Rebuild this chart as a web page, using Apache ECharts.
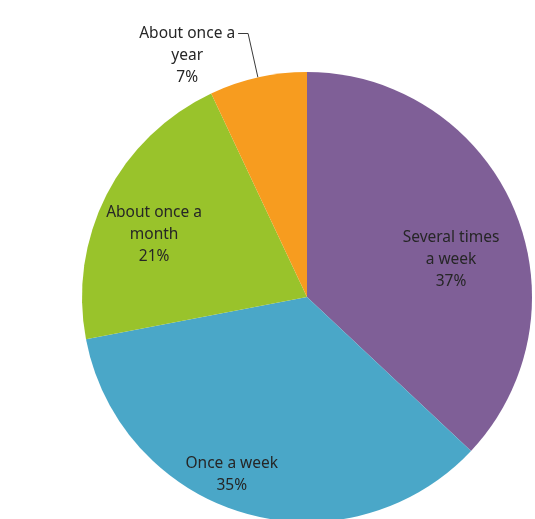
<!DOCTYPE html>
<html>
<head>
<meta charset="utf-8">
<title>How often</title>
<script src="https://cdn.jsdelivr.net/npm/echarts@6/dist/echarts.min.js"></script>
<style>
  html, body { margin: 0; padding: 0; background: #ffffff; }
  #chart { width: 535px; height: 519px; }
</style>
</head>
<body>
<div id="chart"></div>
<script>
// Frequency categories (line breaks show how each label wraps)
const categories = ['Several times\na week', 'Once a week', 'About once a\nmonth', 'About once a\nyear'];
// Share of respondents, percent
const shares = [37, 35, 21, 7];
const sliceColors = ['#7f5f97', '#4aa7c8', '#99c32b', '#f79c1f'];

// Nudge for the labels drawn inside their slice
const insideNudge = [[38, 8], [-43, 67], [-50, -10], null];

const LINE_H = 22;
const FONT = '"Noto Sans", "DejaVu Sans", sans-serif';

const chart = echarts.init(document.getElementById('chart'), null, { renderer: 'canvas' });

const data = categories.map((name, i) => {
  const item = { name: name, value: shares[i], itemStyle: { color: sliceColors[i] } };
  if (!insideNudge[i]) {
    // Small slice: label sits outside with a leader line touching its first line
    item.label = {
      position: 'outside',
      padding: [LINE_H * (name.split('\n').length), 0, 0, 0],
      distanceToLabelLine: 3
    };
    item.labelLine = {
      show: true,
      length: 45,
      length2: 10,
      smooth: false,
      lineStyle: { color: '#3a3a3a', width: 1 }
    };
  }
  return item;
});

chart.setOption({
  animation: false,
  backgroundColor: '#ffffff',
  series: [{
    type: 'pie',
    center: [307, 297],
    radius: 225,
    startAngle: 90,
    clockwise: true,
    avoidLabelOverlap: false,
    emphasis: { disabled: true },
    label: {
      show: true,
      position: 'inside',
      formatter: function (p) {
        const lines = p.name.split('\n').concat([p.value + '%']);
        return lines.map(l => '{t|' + l + '}').join('\n');
      },
      rich: {
        t: {
          align: 'center',
          fontFamily: FONT,
          fontSize: 15.5,
          lineHeight: LINE_H,
          color: '#262626'
        }
      }
    },
    labelLine: { show: false },
    labelLayout: function (params) {
      const n = insideNudge[params.dataIndex];
      if (!n) return {};
      return { dx: n[0], dy: n[1] };
    },
    data: data
  }]
});
</script>
</body>
</html>
